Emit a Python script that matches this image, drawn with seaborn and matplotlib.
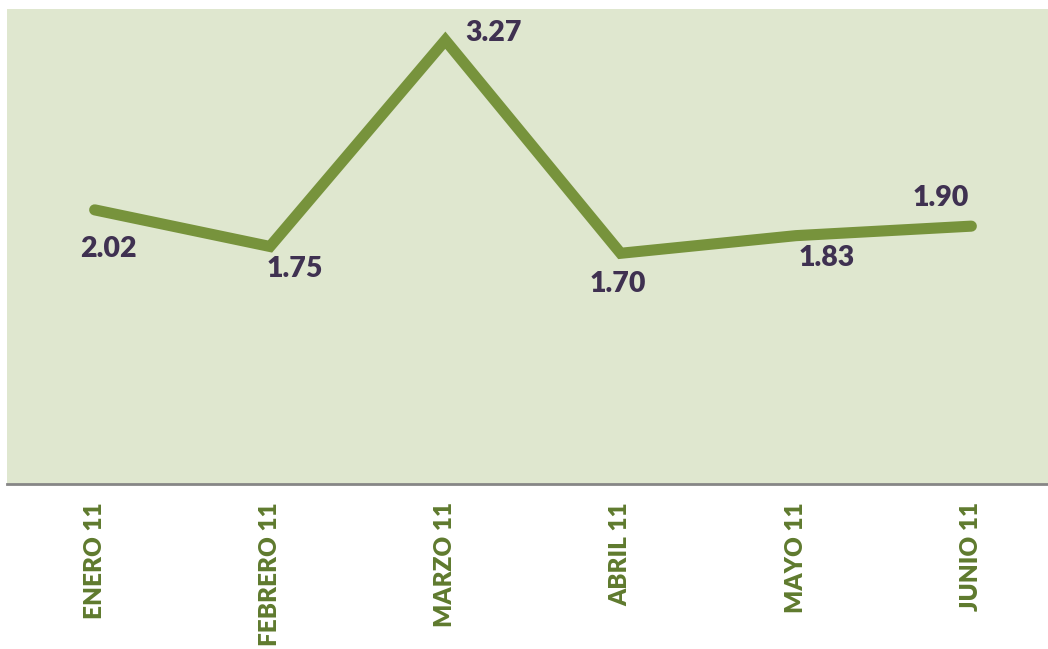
"""
line chart of monthly values, enero - junio 11
"""

import matplotlib.pyplot as plt
import seaborn as sns
import pandas as pd

months = ["ENERO 11", "FEBRERO 11", "MARZO 11", "ABRIL 11", "MAYO 11", "JUNIO 11"]
values = [2.02, 1.75, 3.27, 1.70, 1.83, 1.90]

# label offsets (points) from each data point
label_offsets = [(10, -28), (18, -16), (35, 5), (-2, -22), (22, -16), (-22, 20)]

df = pd.DataFrame({"month": months, "value": values, "pos": range(len(months))})

sns.set_theme(style="white")
plt.rcParams["font.family"] = ["Lato", "DejaVu Sans"]

fig = plt.figure(figsize=(10.48, 6.49), dpi=100)
ax = fig.add_axes([7 / 1048, 165 / 649, 1052 / 1048, 475 / 649])
ax.set_facecolor("#DFE7CF")

sns.lineplot(data=df, x="pos", y="value", color="#77933C", linewidth=8,
             sort=False, ax=ax, solid_capstyle="round", solid_joinstyle="miter")

for i, v in enumerate(values):
    dx, dy = label_offsets[i]
    ax.annotate(f"{v:.2f}", (i, v), xytext=(dx, dy), textcoords="offset points",
                ha="center", va="center", fontsize=20.5, fontweight="heavy",
                color="#3F3151")

ax.set_xlim(-0.5, len(months) - 0.5)
ax.set_ylim(0, 3.5)
ax.set_xticks(range(len(months)))
ax.set_xticklabels(months, rotation=90, fontsize=17.5, fontweight="heavy",
                   color="#5F7A2E")
ax.tick_params(axis="x", length=0, pad=13)
ax.set_yticks([])
ax.set_xlabel("")
ax.set_ylabel("")

for side in ["top", "right", "left"]:
    ax.spines[side].set_visible(False)
ax.spines["bottom"].set_color("#868686")
ax.spines["bottom"].set_linewidth(2)

fig.savefig("out.png", dpi=100)
plt.close(fig)
